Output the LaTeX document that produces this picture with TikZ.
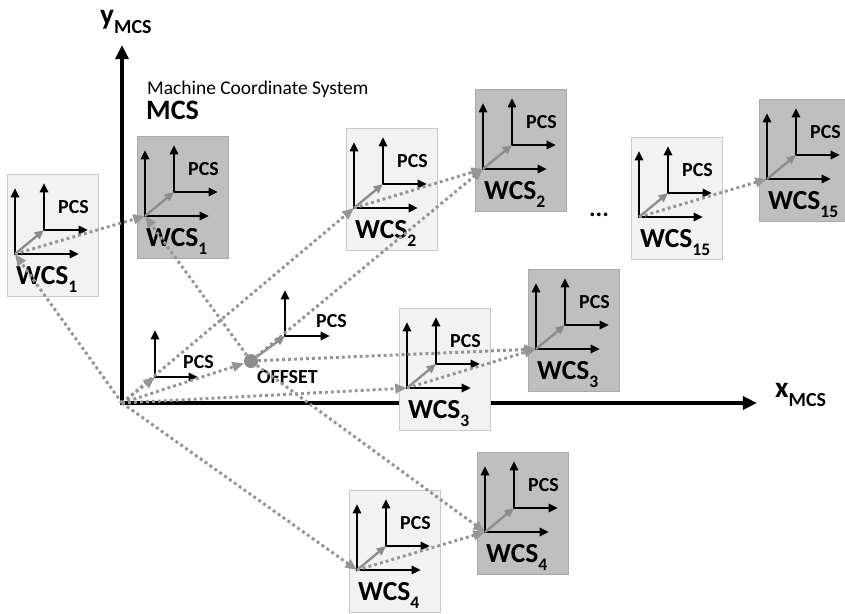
\documentclass[tikz,border=0pt]{standalone}
\usepackage{fontspec}
\setmainfont{Carlito}
\usetikzlibrary{arrows.meta}

\definecolor{boxlight}{HTML}{F2F2F2}
\definecolor{boxlightline}{HTML}{C8C8C8}
\definecolor{boxdark}{HTML}{BFBFBF}
\definecolor{boxdarkline}{HTML}{AAAAAA}
\definecolor{shiftgray}{HTML}{8C8C8C}
\definecolor{dotgray}{HTML}{959595}

\newcommand{\lowidx}[1]{\raisebox{-0.3em}{\fontsize{15}{15}\selectfont #1}}
\newcommand{\axidx}[1]{\raisebox{-8.5pt}{\fontsize{17}{17}\selectfont #1}}

% one work piece: box, WCS axes, PCS axes and labels
\newcommand{\wcsbox}[5]{%
  \node[#4] (#1box) at (#2+37.5,#3-19) {};
  \coordinate (#1) at (#2,#3);
  \coordinate (#1p) at (#2+29,#3-24);
  \draw[axes] (#2,#3-66) -- (#1) -- (#2+64,#3); % WCS axes
  \draw[axes] (#2+29,#3-71) -- (#1p) -- (#2+73,#3-24); % PCS axes
  \draw[pcsshift] (#1) -- (#1p);
  \node[pcs] at (#2+43,#3-41) {PCS};
  \node[wcslabel] at (#2+1,#3+30) {WCS\lowidx{#5}};
}

\begin{document}
\begin{tikzpicture}[x=0.03cm,y=-0.03cm,
    axes/.style={line width=2pt,line join=miter,
      {Triangle[length=8pt,width=7pt]}-{Triangle[length=8pt,width=7pt]}},
    pcsshift/.style={shiftgray,line width=2pt,-{Triangle[length=8pt,width=7pt]}},
    link/.style={dotgray,line width=2.5pt,dash pattern=on 2.5pt off 2.6pt,
      -{Triangle[length=10pt,width=8pt]}},
    lightbox/.style={draw=boxlightline,fill=boxlight,line width=0.8pt,
      minimum width=2.73cm,minimum height=3.66cm,inner sep=0pt},
    darkbox/.style={draw=boxdarkline,fill=boxdark,line width=0.8pt,
      minimum width=2.73cm,minimum height=3.66cm,inner sep=0pt},
    pcs/.style={anchor=base west,inner sep=0pt,font=\fontsize{17}{17}\selectfont\bfseries},
    wcslabel/.style={anchor=base west,inner sep=0pt,font=\fontsize{23.5}{23.5}\selectfont\bfseries}]
\useasboundingbox (0,0) rectangle (845,613);

% machine coordinate system
\coordinate (mcs) at (122,403);
\coordinate (ytip) at (122,45);
\coordinate (xtip) at (757,403);
\draw[line width=3.5pt,line join=miter,
  {Triangle[length=12pt,width=11pt]}-{Triangle[length=12pt,width=11pt]}] (ytip) -- (mcs) -- (xtip);
\node[anchor=base west,inner sep=0pt,font=\fontsize{25}{25}\selectfont\bfseries] (ylabel) at (100,24) {y\axidx{MCS}};
\node[anchor=base west,inner sep=0pt,font=\fontsize{25}{25}\selectfont\bfseries] (xlabel) at (775,397) {x\axidx{MCS}};
\node[anchor=base west,inner sep=0pt,font=\fontsize{16.6}{16.6}\selectfont] (title) at (147,94) {Machine Coordinate System};
\node[anchor=base west,inner sep=0pt,font=\fontsize{24}{24}\selectfont\bfseries] (mcslabel) at (146,119) {MCS};

% work pieces: light = set up, dark = in the machine
\wcsbox{wcsa}{15}{254}{lightbox}{1}
\wcsbox{wcsam}{145}{216}{darkbox}{1}
\wcsbox{wcsb}{354}{208}{lightbox}{2}
\wcsbox{wcsbm}{483}{169}{darkbox}{2}
\wcsbox{wcso}{639}{217}{lightbox}{15}
\wcsbox{wcsom}{767}{179}{darkbox}{15}
\wcsbox{wcsc}{407}{388}{lightbox}{3}
\wcsbox{wcscm}{536}{349}{darkbox}{3}
\wcsbox{wcsd}{357}{570}{lightbox}{4}
\wcsbox{wcsdm}{485}{532}{darkbox}{4}
\node[anchor=base,inner sep=0pt,font=\fontsize{21}{21}\selectfont\bfseries] (dots) at (599,216) {...};

% PCS at the machine origin
\coordinate (mcsp) at (155,377);
\draw[axes] (155,330) -- (mcsp) -- (198,377);
\node[pcs] at (183,368) {PCS};

% offset point and its PCS
\node[circle,fill=shiftgray,minimum size=0.42cm,inner sep=0pt] (offset) at (251,361) {};
\node[pcs] (offlabel) at (257,383) {OFFSET};
\coordinate (offp) at (285,336);
\draw[axes] (285,290) -- (offp) -- (330,336);
\node[pcs] at (316,327) {PCS};
\draw[pcsshift] (offset) -- (offp);

% dotted connectors
\draw[link] (mcs) -- (mcsp);
\draw[link] (mcs) -- (offset);
\draw[link] (mcs) -- (wcsa);
\draw[link] (mcs) -- (wcsb);
\draw[link] (mcs) -- (wcsc);
\draw[link] (mcs) -- (wcsd);
\draw[link] (offset) -- (wcsam);
\draw[link] (offset) -- (wcsbm);
\draw[link] (offset) -- (wcscm);
\draw[link] (offset) -- (wcsdm);
\draw[link] (wcsa) -- (wcsam);
\draw[link] (wcsb) -- (wcsbm);
\draw[link] (wcso) -- (wcsom);
\draw[link] (wcsc) -- (wcscm);
\draw[link] (wcsd) -- (wcsdm);
\end{tikzpicture}
\end{document}
